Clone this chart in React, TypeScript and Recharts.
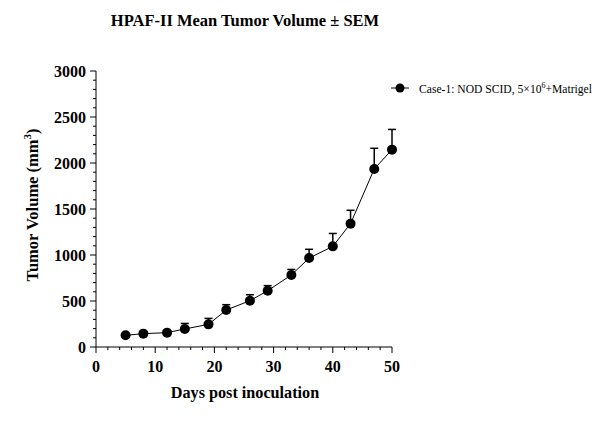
import React from 'react';
import { LineChart, Line, XAxis, YAxis, ErrorBar, Legend } from 'recharts';

const days = [5, 8, 12, 15, 19, 22, 26, 29, 33, 36, 40, 43, 47, 50];
const meanVolume = [127, 145, 156, 196, 246, 402, 503, 612, 783, 967, 1094, 1341, 1935, 2145];
const semVolume = [20, 20, 20, 60, 65, 58, 65, 55, 60, 95, 140, 145, 225, 220];

const xMajor = [0, 10, 20, 30, 40, 50];
const yMajor = [0, 500, 1000, 1500, 2000, 2500, 3000];
const xTicks = Array.from({ length: 26 }, (_, i) => i * 2);
const yTicks = Array.from({ length: 31 }, (_, i) => i * 100);

const data = days.map((d, i) => ({ day: d, volume: meanVolume[i], err: [0, semVolume[i]] }));

const FONT = '"Liberation Serif", "Times New Roman", serif';

const XTick = (props: any) => {
  const { x, y, payload } = props;
  const major = xMajor.includes(payload.value);
  return (
    <g>
      <line x1={x} y1={y} x2={x} y2={y + (major ? 6 : 3)} stroke="#000" />
      {major && (
        <text x={x} y={y + 25} textAnchor="middle" fontFamily={FONT} fontWeight="bold" fontSize={16} fill="#000">
          {payload.value}
        </text>
      )}
    </g>
  );
};

const YTick = (props: any) => {
  const { x, y, payload } = props;
  const major = yMajor.includes(payload.value);
  return (
    <g>
      <line x1={x} y1={y} x2={x - (major ? 6 : 3)} y2={y} stroke="#000" />
      {major && (
        <text x={x - 10} y={y + 5.5} textAnchor="end" fontFamily={FONT} fontWeight="bold" fontSize={16} fill="#000">
          {payload.value}
        </text>
      )}
    </g>
  );
};

const renderLegend = () => (
  <div style={{ display: 'flex', alignItems: 'center', fontFamily: FONT, fontSize: 11.6, color: '#000', whiteSpace: 'nowrap' }}>
    <svg width={18} height={12} style={{ marginRight: 10 }}>
      <line x1={0} y1={6} x2={18} y2={6} stroke="#000" />
      <circle cx={9} cy={6} r={4.5} fill="#000" />
    </svg>
    <span>
      Case-1: NOD SCID, 5×10<sup style={{ fontSize: 8 }}>6</sup>+Matrigel
    </span>
  </div>
);

export default function App() {
  return (
    <div style={{ position: 'absolute', left: 0, top: 0, width: 603, height: 433, background: '#fff' }}>
      <LineChart width={603} height={433} data={data} margin={{ top: 71, right: 211, bottom: 56, left: 0 }}>
        <text x={245} y={26} textAnchor="middle" fontFamily={FONT} fontWeight="bold" fontSize={16.5} fill="#000">
          HPAF-II Mean Tumor Volume ± SEM
        </text>
        <text
          x={38}
          y={205}
          transform="rotate(-90 38 205)"
          textAnchor="middle"
          fontFamily={FONT}
          fontWeight="bold"
          fontSize={16.5}
          fill="#000"
        >
          Tumor Volume (mm<tspan dy={-7} fontSize={11}>3</tspan><tspan dy={7}>)</tspan>
        </text>
        <text x={245} y={398} textAnchor="middle" fontFamily={FONT} fontWeight="bold" fontSize={16.2} fill="#000">
          Days post inoculation
        </text>
        <XAxis
          dataKey="day"
          type="number"
          domain={[0, 50]}
          ticks={xTicks}
          interval={0}
          tickSize={0}
          tickMargin={0}
          tickLine={false}
          tick={<XTick />}
          height={30}
          stroke="#000"
        />
        <YAxis
          type="number"
          domain={[0, 3000]}
          ticks={yTicks}
          interval={0}
          tickSize={0}
          tickMargin={0}
          tickLine={false}
          tick={<YTick />}
          width={96}
          stroke="#000"
        />
        <Legend
          layout="horizontal"
          verticalAlign="middle"
          align="center"
          content={renderLegend}
          wrapperStyle={{ left: 391, top: 81, width: 'auto' }}
        />
        <Line
          dataKey="volume"
          type="linear"
          stroke="#000"
          strokeWidth={1}
          dot={{ r: 5, fill: '#000', stroke: '#000', strokeWidth: 0 }}
          isAnimationActive={false}
        >
          <ErrorBar dataKey="err" direction="y" width={4} stroke="#000" strokeWidth={1.5} />
        </Line>
      </LineChart>
    </div>
  );
}
